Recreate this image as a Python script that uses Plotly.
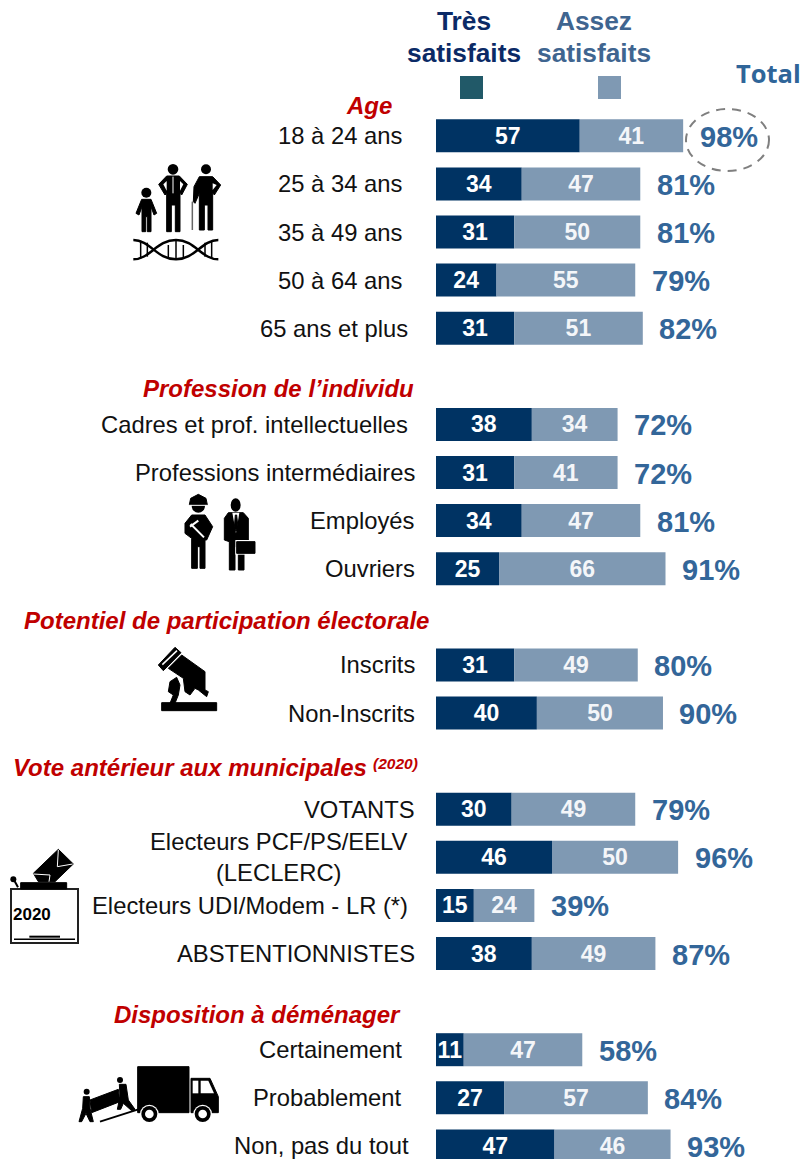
import plotly.graph_objects as go

W, H = 805, 1159
PX_PER_UNIT = 2.522
BAR_X0 = 436
ROW0 = 135.8
ROW_STEP = 48.1

labels = ["18 à 24 ans", "25 à 34 ans", "35 à 49 ans", "50 à 64 ans", "65 ans et plus",
          "Cadres et prof. intellectuelles", "Professions intermédiaires", "Employés", "Ouvriers",
          "Inscrits", "Non-Inscrits",
          "VOTANTS", "Electeurs PCF/PS/EELV<br>(LECLERC)", "Electeurs UDI/Modem - LR (*)", "ABSTENTIONNISTES",
          "Certainement", "Probablement", "Non, pas du tout"]
rows = [0, 1, 2, 3, 4, 6, 7, 8, 9, 11, 12, 14, 15, 16, 17, 19, 20, 21]
tres = [57, 34, 31, 24, 31, 38, 31, 34, 25, 31, 40, 30, 46, 15, 38, 11, 27, 47]
assez = [41, 47, 50, 55, 51, 34, 41, 47, 66, 49, 50, 49, 50, 24, 49, 47, 57, 46]
totals = [98, 81, 81, 79, 82, 72, 72, 81, 91, 80, 90, 79, 96, 39, 87, 58, 84, 93]
label_right = [404, 404, 404, 404, 410, 410, 417, 417, 417, 417, 417, 417, 410, 410, 417, 404, 404, 411]

sections = ["Age", "Profession de l’individu", "Potentiel de participation électorale",
            "Vote antérieur aux municipales", "Disposition à déménager"]
section_right = [394, 416, 431, 368.5, 402.5]
section_y = [105.5, 388.5, 620.5, 767.5, 1014.5]

DARK = "#003363"
LIGHT = "#7F99B3"
BLUE = "#336699"
BLACK = "#111111"
FONT = "Liberation Sans"

fig = go.Figure()
fig.add_bar(y=rows, x=tres, base=0, orientation="h", marker=dict(color=DARK, line_width=0),
            text=tres, textposition="inside", insidetextanchor="middle", textangle=0,
            constraintext="none", cliponaxis=False, showlegend=False,
            textfont=dict(family=FONT, size=23, color="white", weight="bold"))
fig.add_bar(y=rows, x=assez, base=tres, orientation="h", marker=dict(color=LIGHT, line_width=0),
            text=assez, textposition="inside", insidetextanchor="middle", textangle=0,
            constraintext="none", cliponaxis=False, showlegend=False,
            textfont=dict(family=FONT, size=23, color="#F4F6F9", weight="bold"))

ann = []
def px_text(x, y, text, size, color, anchor="center", bold=False, italic=False, family=FONT):
    ann.append(dict(x=x / W, y=1 - y / H, xref="paper", yref="paper", text=text, showarrow=False,
                    xanchor=anchor, yanchor="middle", align="center",
                    font=dict(family=family, size=size, color=color,
                              weight="bold" if bold else "normal",
                              style="italic" if italic else "normal")))

for lab, r, t, right, a, b in zip(labels, rows, totals, label_right, tres, assez):
    ann.append(dict(x=right / W, y=r, xref="paper", yref="y", text=lab, showarrow=False,
                    xanchor="right", yanchor="middle", align="center",
                    font=dict(family=FONT, size=23.8, color=BLACK)))
    ann.append(dict(x=a + b, y=r, xref="x", yref="y", text=f"{t}%", showarrow=False, xshift=14.5,
                    yshift=-1, xanchor="left", yanchor="middle",
                    font=dict(family=FONT, size=29, color=BLUE, weight="bold")))

for s, right, y in zip(sections, section_right, section_y):
    px_text(right, y, s, 24, "#C00000", anchor="right", bold=True, italic=True)
px_text(395, 763, "(2020)", 15.5, "#C00000", bold=True, italic=True)

px_text(464, 21, "Très", 26.3, "#0B2A66", bold=True)
px_text(464, 53, "satisfaits", 26.3, "#0B2A66", bold=True)
px_text(594, 21, "Assez", 26.3, "#3F6590", bold=True)
px_text(594, 53, "satisfaits", 26.3, "#3F6590", bold=True)
px_text(768, 72.5, "Total", 25.5, "#2F6599", bold=True, family="Open Sans")
px_text(31.5, 914, "2020", 17, "#000000", bold=True)

shapes = []
def fx(x): return x / W
def fy(y): return 1 - y / H

def poly(ox, oy, pts, fill="#000000", scale=3):
    d = "M" + " L".join(f"{fx(ox + x / scale):.5f},{fy(oy + y / scale):.5f}" for x, y in pts) + " Z"
    shapes.append(dict(type="path", xref="paper", yref="paper", path=d, fillcolor=fill,
                       line=dict(color=fill, width=0 if fill == "#FFFFFF" else 1)))

def circ(ox, oy, cx, cy, r, fill="#000000", ry=None, scale=3):
    ry = r if ry is None else ry
    shapes.append(dict(type="circle", xref="paper", yref="paper", fillcolor=fill, line_width=0,
                       x0=fx(ox + (cx - r) / scale), x1=fx(ox + (cx + r) / scale),
                       y0=fy(oy + (cy + ry) / scale), y1=fy(oy + (cy - ry) / scale)))

def seg(ox, oy, x0, y0, x1, y1, w, color="#000000", scale=3):
    shapes.append(dict(type="line", xref="paper", yref="paper", x0=fx(ox + x0 / scale), x1=fx(ox + x1 / scale),
                       y0=fy(oy + y0 / scale), y1=fy(oy + y1 / scale), line=dict(color=color, width=w)))

def curve(ox, oy, pts, w, scale=3):
    c = [f"{fx(ox + x / scale):.5f},{fy(oy + y / scale):.5f}" for x, y in pts]
    d = "M" + c[0] + "".join(" C" + " ".join(c[i:i + 3]) for i in range(1, len(c), 3))
    shapes.append(dict(type="path", xref="paper", yref="paper", path=d, fillcolor="rgba(0,0,0,0)",
                       line=dict(color="#000000", width=w)))

# legend swatches
for x0, col in ((460, "#215968"), (598, LIGHT)):
    shapes.append(dict(type="rect", xref="paper", yref="paper", x0=fx(x0), x1=fx(x0 + 23), y0=fy(99), y1=fy(76),
                       fillcolor=col, line_width=0))
# dashed ellipse
shapes.append(dict(type="circle", xref="paper", yref="paper", x0=fx(686), x1=fx(769), y0=fy(171), y1=fy(109),
                   fillcolor="rgba(0,0,0,0)", line=dict(color="#7F7F7F", width=2, dash="9px,7px")))

# --- age icon
o = (70, 150)
circ(*o, 229, 128, 15)
poly(*o, [(215,148),(243,148),(260,190),(252,195),(243,170),(243,245),(232,245),(232,200),(227,200),(227,245),(216,245),(216,170),(207,195),(198,190)])
circ(*o, 309, 58, 16)
poly(*o, [(290,78),(328,78),(352,103),(335,135),(330,130),(330,245),(316,245),(316,165),(304,165),(304,245),(290,245),(290,130),(285,135),(266,103)])
poly(*o, [(280,103),(290,93),(290,122)], "#FFFFFF")
poly(*o, [(340,103),(330,93),(330,122)], "#FFFFFF")
seg(*o, 309, 80, 309, 130, 1, "#FFFFFF")
circ(*o, 408, 58, 15)
poly(*o, [(388,80),(428,80),(452,105),(433,135),(428,128),(428,240),(414,240),(414,165),(403,165),(403,240),(388,240),(388,130),(375,160),(370,155),(372,110)])
poly(*o, [(428,100),(440,105),(428,120)], "#FFFFFF")
seg(*o, 367, 155, 367, 240, 1.5, "#666666")
curve(*o, [(190,270),(240,270),(260,328),(318,328),(375,328),(395,270),(445,270)], 2.5)
curve(*o, [(190,328),(240,328),(260,270),(318,270),(375,270),(395,328),(445,328)], 2.5)
for x, y0, y1 in ((212,272,326),(232,278,320),(295,285,322),(318,272,326),(340,285,322),(405,278,320),(425,272,326)):
    seg(*o, x, y0, x, y1, 1.5)

# --- workers
o = (170, 490)
circ(*o, 85, 48, 20)
poly(*o, [(58,44),(62,25),(85,13),(108,25),(112,44)])
seg(*o, 58, 46, 112, 46, 1, "#FFFFFF")
poly(*o, [(65,75),(105,75),(128,110),(110,150),(105,150),(105,235),(90,235),(90,170),(82,170),(82,235),(65,235),(65,145),(45,130),(45,100)])
seg(*o, 62, 102, 102, 142, 2, "#FFFFFF")
seg(*o, 60, 110, 85, 92, 2, "#FFFFFF")
circ(*o, 197, 45, 15, ry=20)
poly(*o, [(175,68),(220,68),(235,85),(235,150),(222,150),(222,240),(205,240),(205,170),(195,170),(195,240),(178,240),(178,155),(163,150),(163,85)])
poly(*o, [(187,68),(208,68),(198,130)], "#FFFFFF")
poly(*o, [(196,75),(200,75),(204,112),(198,124),(193,112)])
poly(*o, [(196,150),(258,150),(258,194),(196,194)], "#FFFFFF")
poly(*o, [(200,155),(255,155),(255,190),(200,190)])

# --- voter icon
o = (145, 640)
poly(*o, [(40,75),(90,22),(108,38),(55,92)])
seg(*o, 52, 74, 96, 32, 1.5, "#FFFFFF")
poly(*o, [(110,45),(180,95),(180,150),(190,155),(185,170),(160,150),(150,145),(135,165),(120,155),(115,115),(70,85)])
poly(*o, [(75,125),(95,112),(105,135),(100,165),(90,190),(75,190),(85,165),(70,155)])
poly(*o, [(50,188),(215,188),(215,212),(50,212)])

# --- ballot box
o = (0, 840)
shapes.append(dict(type="rect", xref="paper", yref="paper", x0=fx(11), x1=fx(78), y0=fy(943), y1=fy(889),
                   fillcolor="rgba(0,0,0,0)", line=dict(color="#222222", width=2)))
poly(*o, [(62,128),(200,128),(200,147),(62,147)])
circ(*o, 40, 118, 9)
seg(*o, 42, 120, 54, 142, 2)
poly(*o, [(100,100),(175,28),(220,72),(165,125),(115,125)])
seg(*o, 175, 30, 172, 80, 1, "#FFFFFF")
seg(*o, 172, 80, 218, 72, 1, "#FFFFFF")
seg(*o, 100, 102, 150, 105, 1, "#FFFFFF")
seg(*o, 150, 105, 147, 125, 1, "#FFFFFF")
seg(*o, 42, 298, 225, 298, 1.5)
seg(*o, 88, 290, 180, 290, 2)

# --- truck
o = (70, 1050)
poly(*o, [(203,50),(357,50),(357,188),(203,188)])
poly(*o, [(363,85),(420,85),(445,140),(445,188),(363,188)])
poly(*o, [(368,92),(385,92),(385,130),(368,130)], "#FFFFFF")
poly(*o, [(392,92),(415,92),(432,130),(392,130)], "#FFFFFF")
for cx in (238, 398):
    circ(*o, cx, 192, 28, "#FFFFFF")
    circ(*o, cx, 192, 24)
    circ(*o, cx, 192, 13, "#FFFFFF")
seg(*o, 90, 215, 205, 178, 2)
poly(*o, [(60,150),(145,118),(150,155),(65,188)])
circ(*o, 50, 125, 9)
poly(*o, [(40,140),(58,140),(60,175),(70,215),(60,215),(48,190),(35,215),(27,215),(38,175)])
circ(*o, 150, 90, 9)
poly(*o, [(148,103),(168,103),(175,150),(195,178),(185,182),(160,160),(152,178),(142,178),(150,140)])

fig.update_layout(
    width=W, height=H, autosize=False, margin=dict(l=0, r=0, t=0, b=0),
    paper_bgcolor="white", plot_bgcolor="white", barmode="overlay", bargap=0.314,
    xaxis=dict(range=[-BAR_X0 / PX_PER_UNIT, (W - BAR_X0) / PX_PER_UNIT], visible=False, fixedrange=True),
    yaxis=dict(range=[(H - ROW0) / ROW_STEP, -ROW0 / ROW_STEP], visible=False, fixedrange=True),
    annotations=ann, shapes=shapes, showlegend=False,
)
fig.write_html("out.html", config=dict(displayModeBar=False),
               post_script="document.body.style.margin='0';document.body.style.overflow='hidden';")
